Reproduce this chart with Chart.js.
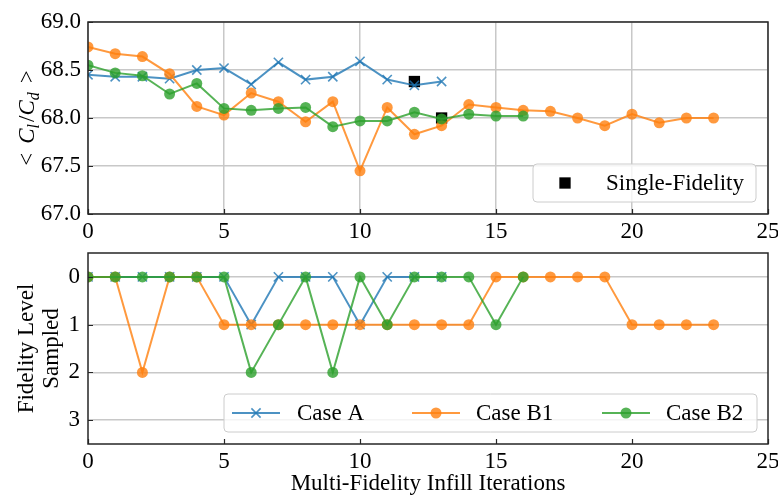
<!DOCTYPE html>
<html>
<head>
<meta charset="utf-8">
<script src="https://cdn.jsdelivr.net/npm/chart.js@4.4.0/dist/chart.umd.min.js"></script>
<style>
  html, body { margin: 0; padding: 0; background: #fff; }
  #wrap { position: relative; width: 778px; height: 497px; overflow: hidden; }
  canvas { position: absolute; left: 0; }
  #ldChart { top: 0; }
  #fidChart { top: 240px; }
</style>
</head>
<body>
<div id="wrap">
  <canvas id="ldChart" width="778" height="240"></canvas>
  <canvas id="fidChart" width="778" height="257"></canvas>
</div>
<script>
// infill iteration index shared by every series
const iterations = [0, 1, 2, 3, 4, 5, 6, 7, 8, 9, 10, 11, 12, 13, 14, 15, 16, 17, 18, 19, 20, 21, 22, 23];

// mean lift-to-drag ratio per iteration
const caseA_ld  = [68.45, 68.43, 68.43, 68.41, 68.50, 68.52, 68.35, 68.58, 68.40, 68.43, 68.59, 68.40, 68.34, 68.38];
const caseB1_ld = [68.74, 68.67, 68.64, 68.46, 68.12, 68.03, 68.26, 68.17, 67.96, 68.17, 67.45, 68.11,
                   67.83, 67.92, 68.14, 68.11, 68.08, 68.07, 68.00, 67.92, 68.04, 67.95, 68.00, 68.00];
const caseB2_ld = [68.55, 68.47, 68.44, 68.25, 68.36, 68.10, 68.08, 68.10, 68.11, 67.91, 67.97, 67.97,
                   68.06, 67.99, 68.04, 68.02, 68.02];
const singleFid_iter = [12, 13];
const singleFid_ld   = [68.38, 68.00];

// fidelity level picked at each iteration (0 = highest)
const caseA_fid  = [0, 0, 0, 0, 0, 0, 1, 0, 0, 0, 1, 0, 0, 0];
const caseB1_fid = [0, 0, 2, 0, 0, 1, 1, 1, 1, 1, 1, 1, 1, 1, 1, 0, 0, 0, 0, 0, 1, 1, 1, 1];
const caseB2_fid = [0, 0, 0, 0, 0, 0, 2, 1, 0, 2, 0, 1, 0, 0, 0, 1, 0];

const iterTicks = [0, 5, 10, 15, 20, 25];
const ldTicks   = [67.0, 67.5, 68.0, 68.5, 69.0];
const fidTicks  = [0, 1, 2, 3];

const BLUE   = 'rgba(31, 119, 180, 0.8)';
const ORANGE = 'rgba(255, 127, 14, 0.8)';
const GREEN  = 'rgba(44, 160, 44, 0.8)';
const GRID   = '#c8c8c8';
const SPINE  = '#262626';

Chart.defaults.font.family = "'Liberation Serif', 'Times New Roman', serif";
Chart.defaults.font.size = 23;
Chart.defaults.color = '#000';

function toPoints(xs, ys) {
    return ys.map((y, i) => ({ x: xs[i], y: y }));
}

function series(label, color, style, radius, data, order) {
    return {
        label: label,
        data: data,
        borderColor: color,
        backgroundColor: color,
        pointBackgroundColor: color,
        pointBorderColor: color,
        borderWidth: 2,
        pointStyle: style,
        pointRadius: radius,
        pointBorderWidth: style === 'crossRot' ? 1.6 : 0,
        order: order
    };
}

function rrect(ctx, x, y, w, h, r) {
    ctx.beginPath();
    ctx.moveTo(x + r, y);
    ctx.lineTo(x + w - r, y);
    ctx.arcTo(x + w, y, x + w, y + r, r);
    ctx.lineTo(x + w, y + h - r);
    ctx.arcTo(x + w, y + h, x + w - r, y + h, r);
    ctx.lineTo(x + r, y + h);
    ctx.arcTo(x, y + h, x, y + h - r, r);
    ctx.lineTo(x, y + r);
    ctx.arcTo(x, y, x + r, y, r);
    ctx.closePath();
}

// box around the axes, inward tick marks and an inset legend
const framePlugin = {
    id: 'frame',
    afterDraw(chart, args, opts) {
        const { ctx, chartArea: a } = chart;
        const xs = chart.scales.x, ys = chart.scales.y;
        ctx.save();
        ctx.strokeStyle = SPINE;
        ctx.lineWidth = 1.2;
        ctx.beginPath();
        xs.ticks.forEach(t => {
            const px = Math.round(xs.getPixelForValue(t.value)) + 0.5;
            ctx.moveTo(px, a.bottom); ctx.lineTo(px, a.bottom - 5);
        });
        ys.ticks.forEach(t => {
            const py = Math.round(ys.getPixelForValue(t.value)) + 0.5;
            ctx.moveTo(a.left, py); ctx.lineTo(a.left + 5, py);
        });
        ctx.stroke();
        ctx.lineWidth = 1.5;
        ctx.strokeRect(a.left, a.top, a.right - a.left, a.bottom - a.top);

        const lg = opts.legend;
        if (lg) {
            const bx = a.right - lg.right - lg.width;
            const by = a.bottom - lg.bottom - lg.height;
            rrect(ctx, bx, by, lg.width, lg.height, 4);
            ctx.fillStyle = 'rgba(255, 255, 255, 0.8)';
            ctx.fill();
            ctx.strokeStyle = '#cccccc';
            ctx.lineWidth = 1;
            ctx.stroke();
            const cy = by + lg.height / 2;
            lg.items.forEach(it => {
                const ds = chart.data.datasets[it.dataset];
                ctx.strokeStyle = ds.borderColor;
                ctx.fillStyle = ds.backgroundColor;
                if (it.lineFrom !== undefined) {
                    ctx.lineWidth = ds.borderWidth;
                    ctx.beginPath();
                    ctx.moveTo(bx + it.lineFrom, cy);
                    ctx.lineTo(bx + it.lineTo, cy);
                    ctx.stroke();
                }
                ctx.lineWidth = ds.pointBorderWidth;
                Chart.helpers.drawPoint(ctx, {
                    pointStyle: ds.pointStyle,
                    radius: ds.pointRadius,
                    rotation: 0,
                    borderWidth: ds.pointBorderWidth
                }, bx + it.marker, cy);
                ctx.fillStyle = '#000';
                ctx.font = "23px 'Liberation Serif', serif";
                ctx.textAlign = 'left';
                ctx.textBaseline = 'middle';
                ctx.fillText(ds.label, bx + it.text, cy + 1);
            });
        }

        // rotated math label  < C_l / C_d >
        const mt = opts.mathTitle;
        if (mt) {
            ctx.translate(mt.x, (a.top + a.bottom) / 2);
            ctx.rotate(-Math.PI / 2);
            ctx.fillStyle = '#000';
            ctx.textBaseline = 'alphabetic';
            const big = "23px 'Liberation Serif', serif";
            const bigIt = "italic 23px 'Liberation Serif', serif";
            const sub = "italic 16px 'Liberation Serif', serif";
            const parts = [
                [big, '<', 0, 9], [bigIt, 'C', 0, 0], [sub, 'l', 5, 2], [big, '/', 0, 0],
                [bigIt, 'C', 0, 0], [sub, 'd', 5, 9], [big, '>', 0, 0]
            ];
            let w = 0;
            parts.forEach(p => { ctx.font = p[0]; w += ctx.measureText(p[1]).width + p[3]; });
            let cx = -w / 2;
            parts.forEach(p => {
                ctx.font = p[0];
                ctx.fillText(p[1], cx, 8 + p[2]);
                cx += ctx.measureText(p[1]).width + p[3];
            });
        }
        ctx.restore();
    }
};

function fixedTicks(values) {
    return scale => { scale.ticks = values.map(v => ({ value: v })); };
}

const ldChart = new Chart(document.getElementById('ldChart'), {
    type: 'line',
    data: {
        datasets: [
            series('Case B2', GREEN, 'circle', 5.5, toPoints(iterations, caseB2_ld), 0),
            series('Case B1', ORANGE, 'circle', 5.5, toPoints(iterations, caseB1_ld), 1),
            series('Case A', BLUE, 'crossRot', 6.5, toPoints(iterations, caseA_ld), 2),
            {
                label: 'Single-Fidelity',
                data: toPoints(singleFid_iter, singleFid_ld),
                showLine: false,
                borderColor: '#000',
                backgroundColor: '#000',
                pointStyle: 'rect',
                pointRadius: 8,
                pointBorderWidth: 0,
                order: 3
            }
        ]
    },
    options: {
        responsive: false,
        animation: false,
        layout: { padding: { top: 22, right: 10, left: 0, bottom: 0 } },
        scales: {
            x: {
                type: 'linear', min: 0, max: 25,
                afterBuildTicks: fixedTicks(iterTicks),
                afterFit: s => { s.height = 26; s.paddingLeft = 0; s.paddingRight = 0; },
                grid: { color: GRID, lineWidth: 1.5, drawTicks: false },
                border: { display: false },
                ticks: { padding: 4, maxRotation: 0 }
            },
            y: {
                type: 'linear', min: 67, max: 69,
                afterBuildTicks: fixedTicks(ldTicks),
                afterFit: s => { s.width = 88; s.paddingTop = 0; s.paddingBottom = 0; },
                grid: { color: GRID, lineWidth: 1.5, drawTicks: false },
                border: { display: false },
                ticks: { padding: 7, callback: v => v.toFixed(1) }
            }
        },
        plugins: {
            legend: { display: false },
            tooltip: { enabled: false },
            frame: {
                mathTitle: { x: 26 },
                legend: {
                    width: 223, height: 38, right: 12, bottom: 12,
                    items: [{ dataset: 3, marker: 32, text: 73 }]
                }
            }
        }
    },
    plugins: [framePlugin]
});

const fidChart = new Chart(document.getElementById('fidChart'), {
    type: 'line',
    data: {
        datasets: [
            series('Case B2', GREEN, 'circle', 5.5, toPoints(iterations, caseB2_fid), 0),
            series('Case B1', ORANGE, 'circle', 5.5, toPoints(iterations, caseB1_fid), 1),
            series('Case A', BLUE, 'crossRot', 6.5, toPoints(iterations, caseA_fid), 2)
        ]
    },
    options: {
        responsive: false,
        animation: false,
        layout: { padding: { top: 13, right: 10, left: 0, bottom: 0 } },
        scales: {
            x: {
                type: 'linear', min: 0, max: 25,
                afterBuildTicks: fixedTicks(iterTicks),
                afterFit: s => { s.height = 53; s.paddingLeft = 0; s.paddingRight = 0; },
                grid: { display: false, drawTicks: false },
                border: { display: false },
                ticks: { padding: 4, maxRotation: 0 },
                title: {
                    display: true,
                    text: 'Multi-Fidelity Infill Iterations',
                    font: { size: 23, lineHeight: 1.1 },
                    padding: { top: 0, bottom: 0 }
                }
            },
            y: {
                type: 'linear', min: -0.5, max: 3.5, reverse: true,
                afterBuildTicks: fixedTicks(fidTicks),
                afterFit: s => { s.width = 88; s.paddingTop = 0; s.paddingBottom = 0; },
                grid: { color: GRID, lineWidth: 1.5, drawTicks: false },
                border: { display: false },
                ticks: { padding: 8 },
                title: {
                    display: true,
                    text: ['Fidelity Level', 'Sampled'],
                    font: { size: 23, lineHeight: 1.1 },
                    padding: { top: 14, bottom: 0 }
                }
            }
        },
        plugins: {
            legend: { display: false },
            tooltip: { enabled: false },
            frame: {
                legend: {
                    width: 533, height: 38, right: 11, bottom: 12,
                    items: [
                        { dataset: 2, lineFrom: 8, lineTo: 56, marker: 32, text: 73 },
                        { dataset: 1, lineFrom: 188, lineTo: 236, marker: 212, text: 252 },
                        { dataset: 0, lineFrom: 378, lineTo: 426, marker: 402, text: 442 }
                    ]
                }
            }
        }
    },
    plugins: [framePlugin]
});
</script>
</body>
</html>
